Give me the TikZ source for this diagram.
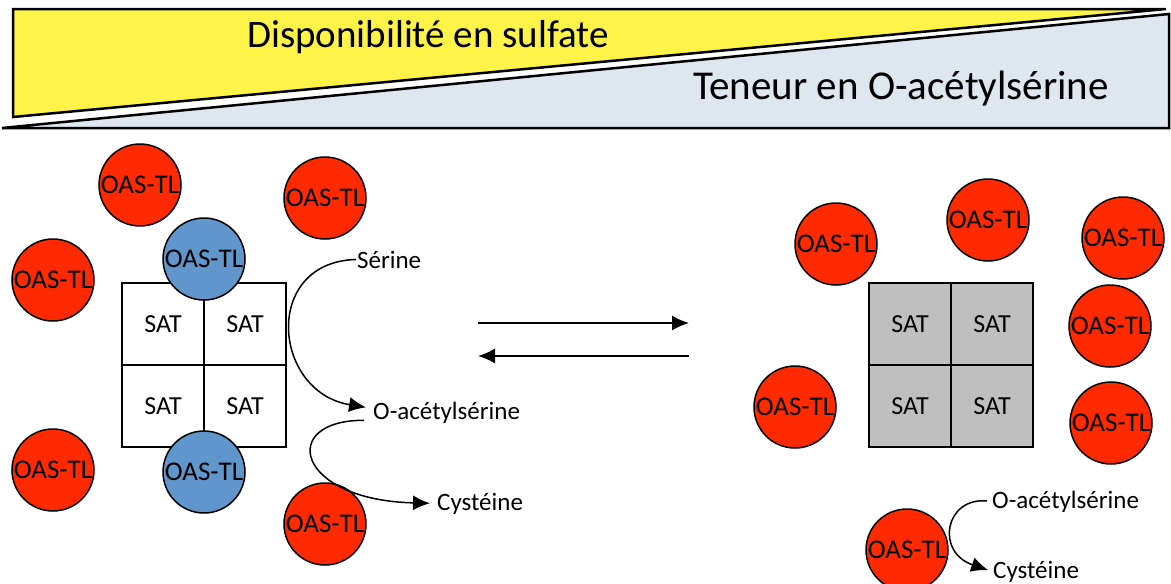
\documentclass[tikz,border=0pt]{standalone}
\usepackage{fontspec}
\setmainfont{Carlito}
\usetikzlibrary{arrows.meta}

\definecolor{oasred}{RGB}{255,42,0}
\definecolor{oasblue}{RGB}{97,150,204}
\definecolor{sulfyellow}{RGB}{255,243,74}
\definecolor{oaslight}{RGB}{222,230,240}
\definecolor{satgray}{RGB}{191,191,191}

\tikzset{
    enzyme/.style={circle, draw, line width=1.5pt, minimum size=82pt, inner sep=0pt,
        font=\fontsize{27}{30}\selectfont},
    freeenz/.style={enzyme, fill=oasred},
    boundenz/.style={enzyme, fill=oasblue},
    satcell/.style={rectangle, draw, line width=1.5pt, minimum size=82pt, inner sep=0pt,
        font=\fontsize{26}{30}\selectfont},
    metab/.style={inner sep=1pt, font=\fontsize{25}{30}\selectfont},
    reac/.style={line width=1.5pt, -{Latex[length=17pt,width=15pt]}},
}

\begin{document}
\begin{tikzpicture}[x=1pt, y=-1pt]
            \useasboundingbox (0, 0) rectangle (1171, 584);

            % gradient banner
            \coordinate (Y1) at (13, 9);
            \coordinate (Y2) at (1166, 9);
            \coordinate (Y3) at (13, 117);
            \coordinate (B1) at (2, 128);
            \coordinate (B2) at (1169, 128);
            \coordinate (B3) at (1169, 14);
            \draw[line width=2.5pt, fill=sulfyellow] (Y1) -- (Y2) -- (Y3) -- cycle;
            \draw[line width=2.5pt, fill=oaslight] (B1) -- (B2) -- (B3) -- cycle;
            \node[anchor=base, inner sep=0pt, font=\fontsize{39}{44}\selectfont] (sulf) at (428, 47) { Disponibilité en sulfate };
            \node[anchor=base, inner sep=0pt, font=\fontsize{41}{46}\selectfont] (teneur) at (901, 99) { Teneur en O-acétylsérine };

            % complexe CSC (gauche)
            \node[satcell, fill=white] (satA) at (163, 324) { SAT };
            \node[satcell, fill=white] (satB) at (245, 324) { SAT };
            \node[satcell, fill=white] (satC) at (163, 406) { SAT };
            \node[satcell, fill=white] (satD) at (245, 406) { SAT };
            \node[boundenz] (oasb1) at (204, 259) { OAS-TL };
            \node[boundenz] (oasb2) at (204, 472) { OAS-TL };

            \node[freeenz] (oasl1) at (140, 185) { OAS-TL };
            \node[freeenz] (oasl2) at (325, 198) { OAS-TL };
            \node[freeenz] (oasl3) at (53, 280) { OAS-TL };
            \node[freeenz] (oasl4) at (53, 470) { OAS-TL };
            \node[freeenz] (oasl5) at (325, 524) { OAS-TL };

            \node[metab, anchor=base west] (ser) at (356, 268) { Sérine };
            \node[metab, anchor=base west] (oasa) at (372, 419) { O-acétylsérine };
            \node[metab, anchor=base west] (cysa) at (436, 510) { Cystéine };

            \draw[reac, shorten >=6pt] (ser.west) .. controls (262, 262) and (272, 392) .. ([yshift=4pt]oasa.west);
            \draw[reac, shorten <=8pt, shorten >=6pt] ([yshift=-8pt]oasa.west) .. controls (278, 420) and (295, 500) .. (cysa.west);

            % equilibre
            \coordinate (eqA) at (478, 323);
            \coordinate (eqB) at (689, 323);
            \coordinate (eqC) at (689, 356);
            \coordinate (eqD) at (478, 356);
            \draw[reac] (eqA) -- (eqB);
            \draw[reac] (eqC) -- (eqD);

            % SAT libre (droite)
            \node[satcell, fill=satgray] (satE) at (910, 324) { SAT };
            \node[satcell, fill=satgray] (satF) at (992, 324) { SAT };
            \node[satcell, fill=satgray] (satG) at (910, 406) { SAT };
            \node[satcell, fill=satgray] (satH) at (992, 406) { SAT };

            \node[freeenz] (oasr1) at (836, 244) { OAS-TL };
            \node[freeenz] (oasr2) at (988, 220) { OAS-TL };
            \node[freeenz] (oasr3) at (1123, 238) { OAS-TL };
            \node[freeenz] (oasr4) at (1110, 326) { OAS-TL };
            \node[freeenz] (oasr5) at (795, 407) { OAS-TL };
            \node[freeenz] (oasr6) at (1111, 423) { OAS-TL };
            \node[freeenz] (oasr7) at (907, 550) { OAS-TL };

            \node[metab, anchor=base west] (oasb) at (991, 508) { O-acétylsérine };
            \node[metab, anchor=base west] (cysb) at (992, 578) { Cystéine };
            \draw[reac, shorten <=4pt, shorten >=4pt] (oasb.west) .. controls (945, 497) and (935, 552) .. (cysb.west);
        \end{tikzpicture}
\end{document}
